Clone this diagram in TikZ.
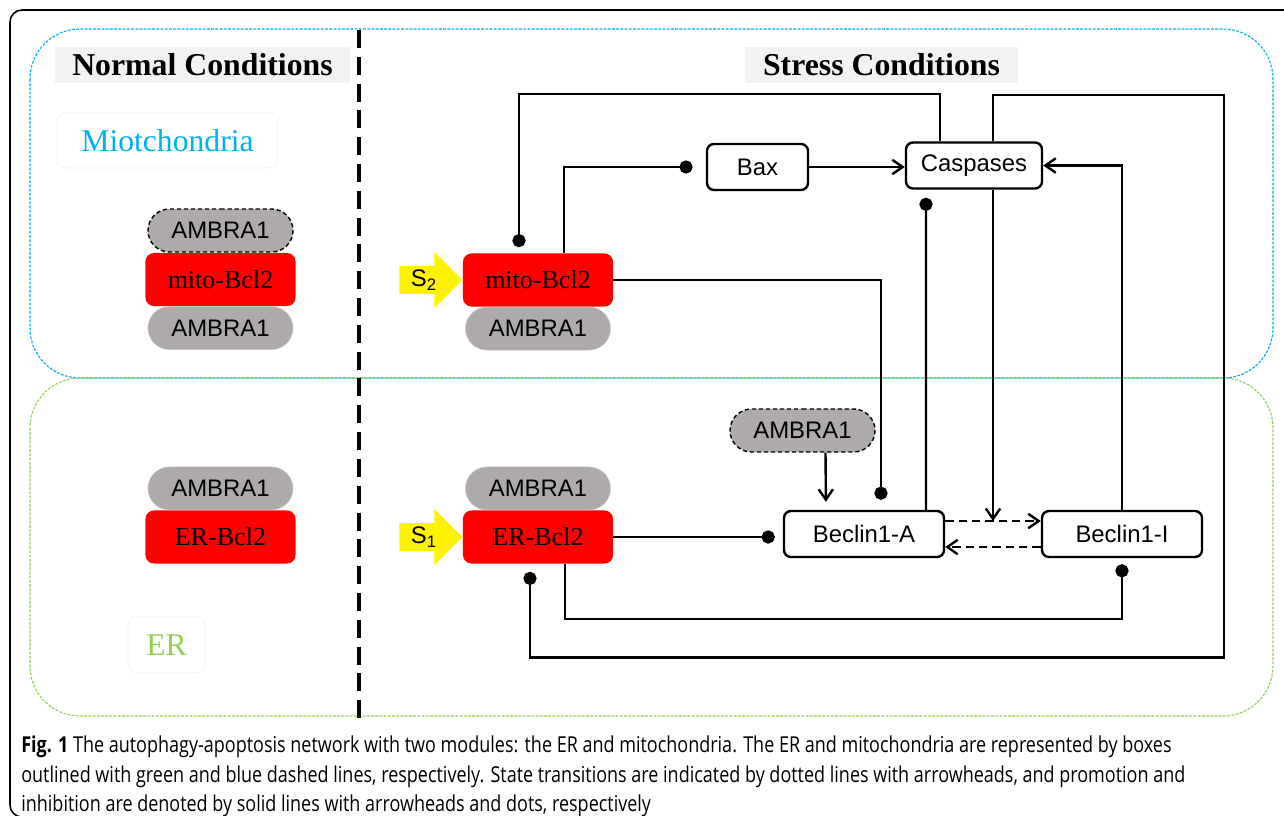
\documentclass[tikz,border=0pt]{standalone}
\usepackage{fontspec}
\setmainfont{Liberation Serif}
\setsansfont{Liberation Sans}
\newfontfamily\capfont[FakeStretch=0.82]{Open Sans}
\usetikzlibrary{arrows.meta, positioning, shapes.misc, shapes.arrows}
\tikzset{>={Straight Barb[length=2.6mm, width=3.6mm]}}

\definecolor{mitoblue}{HTML}{00B0F0}
\definecolor{ergreen}{HTML}{92D050}
\definecolor{bclred}{HTML}{FE0000}
\definecolor{ambgray}{HTML}{AEAAAA}
\definecolor{titlebg}{HTML}{F2F2F2}

\begin{document}
\begin{tikzpicture}[x=0.025cm, y=-0.025cm,
    title/.style={fill=titlebg, inner sep=0pt, minimum height=0.9cm, font=\bfseries\fontsize{22.6}{26}\selectfont},
    region/.style={fill=white, draw=black!6, rounded corners=6pt, minimum height=1.4cm, font=\fontsize{22.5}{26}\selectfont},
    bcl/.style={fill=bclred, rounded corners=6pt, minimum width=3.75cm, minimum height=1.325cm, inner sep=0pt, font=\fontsize{18.5}{22}\selectfont},
    amb/.style={rounded rectangle, fill=ambgray, draw=black!22, line width=0.4pt, minimum width=3.625cm, minimum height=1.075cm, inner sep=0pt, font=\sffamily\fontsize{17}{20}\selectfont},
    ambfree/.style={amb, draw=black, dash pattern=on 3pt off 2pt, line width=1pt},
    box/.style={draw, line width=1.7pt, rounded corners=5pt, minimum height=1.15cm, inner sep=0pt, font=\sffamily\fontsize{17}{20}\selectfont},
    stim/.style={single arrow, fill=yellow, single arrow head extend=0.35cm, minimum height=1.575cm, inner sep=2.5pt, font=\sffamily\fontsize{17}{20}\selectfont},
    pro/.style={->, line width=1.7pt},
    inh/.style={-{Circle[length=0.33cm]}, line width=1.7pt},
    trs/.style={->, line width=1.7pt, dash pattern=on 6pt off 3.5pt}]

\useasboundingbox (0,0) rectangle (1284,816);
\draw[line width=1.1pt, rounded corners=0.3cm] (1300,10) -- (10,10) -- (10,817) -- (1300,817);

\draw[mitoblue, line width=0.8pt, dash pattern=on 2pt off 1pt, rounded corners=1.25cm] (30,29) rectangle (1273,378);
\draw[ergreen, line width=0.8pt, dash pattern=on 2pt off 1pt, rounded corners=1.25cm] (30,378) rectangle (1273,716);
\draw[line width=2.4pt, dash pattern=on 0.45cm off 0.22cm] (359,30) -- (359,718);

\node[title, minimum width=7.375cm] (normal) at (202.5,65) {Normal Conditions};
\node[title, minimum width=6.825cm] (stress) at (881.5,65) {Stress Conditions};
\node[region, text=mitoblue, minimum width=5.525cm, minimum height=1.375cm] (mitolabel) at (167.5,140.5) {Miotchondria};
\node[region, text=ergreen, minimum width=1.925cm] (erlabel) at (166.5,645) {ER};

% normal conditions
\node[bcl] (lmito) at (220.5,279.5) {mito-Bcl2};
\node[ambfree, above=0pt of lmito] (lamb1) {AMBRA1};
\node[amb, below=0pt of lmito] (lamb2) {AMBRA1};
\node[bcl] (ler) at (220.5,537) {ER-Bcl2};
\node[amb, above=0pt of ler] (lamb3) {AMBRA1};

% stress conditions
\node[bcl] (rmito) at (538,280) {mito-Bcl2};
\node[amb, below=0pt of rmito] (ramb2) {AMBRA1};
\node[stim, left=0pt of rmito] (s2) {S\textsubscript{2}};
\node[bcl] (rer) at (538,537) {ER-Bcl2};
\node[amb, above=0pt of rer] (ramb3) {AMBRA1};
\node[stim, left=0pt of rer] (s1) {S\textsubscript{1}};

\node[box, minimum width=2.525cm] (bax) at (757.5,167) {Bax};
\node[box, minimum width=3.4cm] (casp) at (974,165.5) {Caspases};
\node[ambfree] (ramb) at (802.5,430.5) {AMBRA1};
\node[box, minimum width=4cm] (beca) at (864,534) {Beclin1-A};
\node[box, minimum width=4cm] (beci) at (1122,534) {Beclin1-I};

\draw[trs] ([yshift=0.325cm]beca.east) -- node[coordinate, pos=0.5] (trans) {} ([yshift=0.325cm]beci.west);
\draw[trs] ([yshift=-0.325cm]beci.west) -- ([yshift=-0.325cm]beca.east);

\draw[pro] (bax.east) -- (bax.east -| casp.west);
\draw[pro] (beci.north) |- (casp.east);
\draw[pro] (casp.south -| trans) -- (trans);
\draw[pro, shorten >=0.2cm] ([xshift=0.575cm]ramb.south) -- ([xshift=-0.95cm]beca.north);

\draw[inh, shorten >=0.15cm] ([xshift=-0.85cm]casp.north) -- ++(0,-47) -| ([xshift=-0.475cm]rmito.north);
\draw[inh, shorten >=0.2cm] ([xshift=0.475cm]casp.north) -- ++(0,-46) -- ++(231,0) -- ++(0,562) -| ([xshift=-0.2cm]rer.south);
\draw[inh, shorten >=0.33cm] ([xshift=0.65cm]rmito.north) |- (bax.west);
\draw[inh, shorten >=0.25cm] (rmito.east) -| ([xshift=0.425cm]beca.north);
\draw[inh, shorten >=0.2cm] ([xshift=1.55cm]beca.north) -- ([xshift=-1.2cm]casp.south);
\draw[inh, shorten >=0.2cm] (rer.east) -- (rer.east -| beca.west);
\draw[inh, shorten >=0.15cm] ([xshift=0.675cm]rer.south) -- ++(0,55) -| (beci.south);

\node[anchor=north west, align=left, inner sep=0pt, font=\capfont\fontsize{15.6}{20.3}\selectfont] (caption) at (21,736)
  {\textbf{Fig. 1} The autophagy-apoptosis network with two modules: the ER and mitochondria. The ER and mitochondria are represented by boxes\\[0.5pt]
   outlined with green and blue dashed lines, respectively. State transitions are indicated by dotted lines with arrowheads, and promotion and\\[0.5pt]
   inhibition are denoted by solid lines with arrowheads and dots, respectively};
\end{tikzpicture}
\end{document}
